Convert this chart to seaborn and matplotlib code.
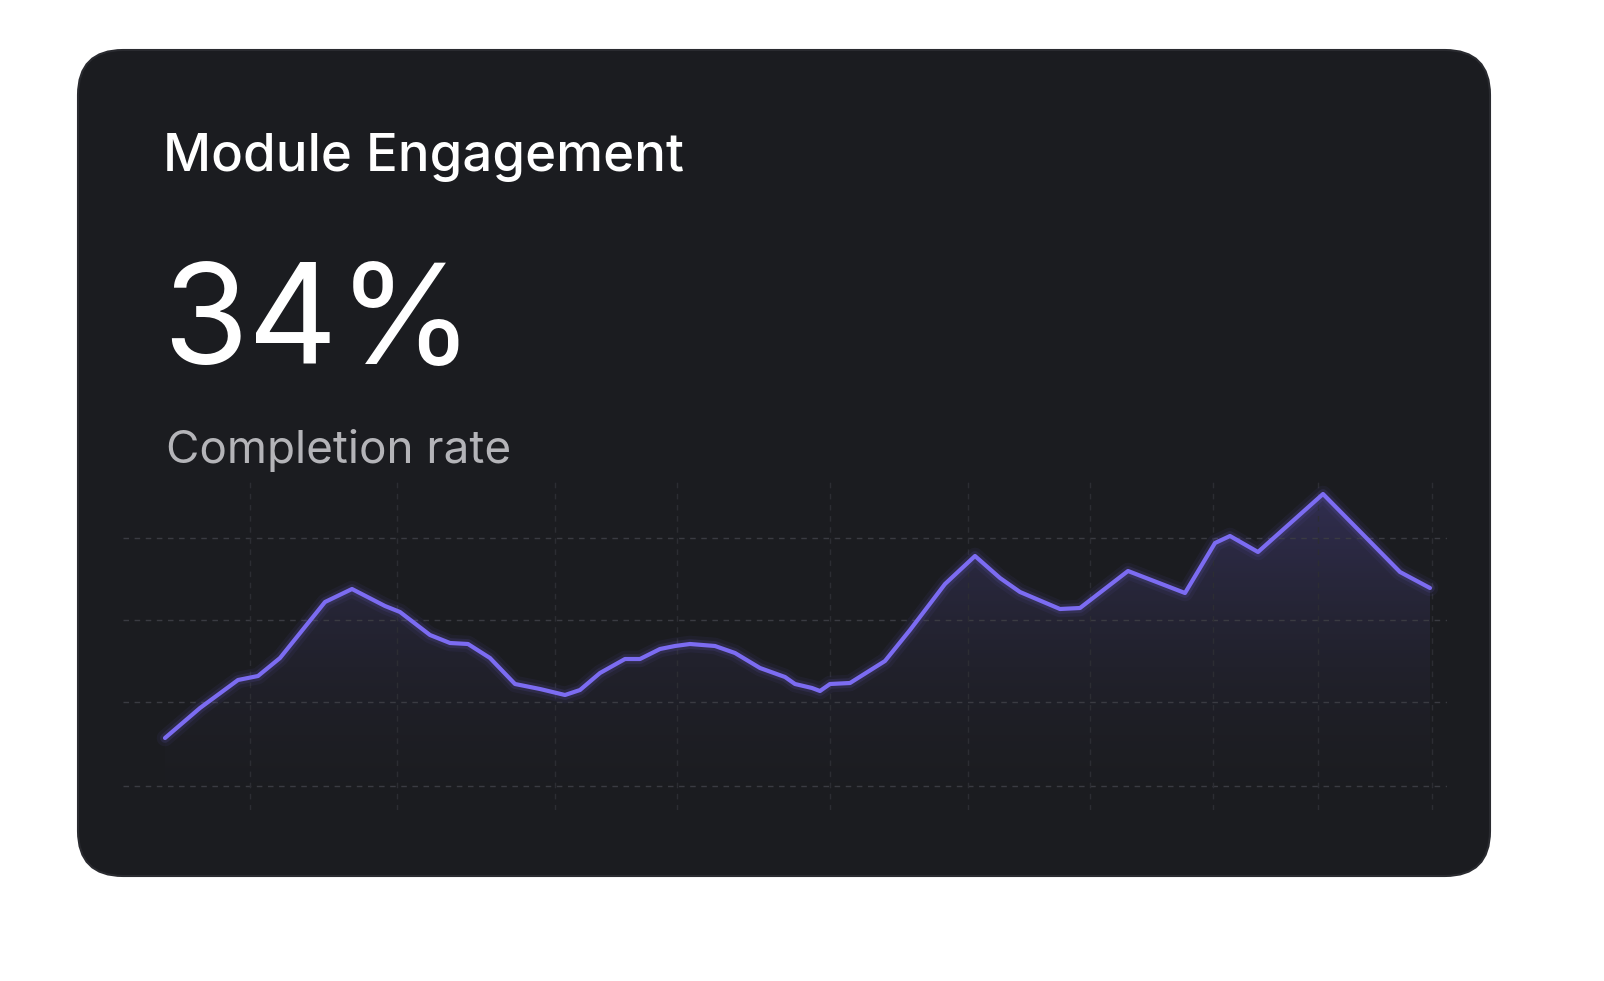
import matplotlib
matplotlib.use("Agg")
import matplotlib.pyplot as plt
import seaborn as sns
import pandas as pd
import numpy as np
from matplotlib.patches import FancyBboxPatch
from matplotlib.colors import LinearSegmentedColormap

sns.set_theme(style="dark")
plt.rcParams['font.family'] = ['Inter', 'DejaVu Sans']

title = "Module Engagement"
kpi = "34%"
kpi_label = "Completion rate"

day = [165,200,238,258,280,325,352,385,400,430,450,468,490,515,540,565,580,600,625,640,660,675,690,715,735,760,785,795,812,820,830,850,885,910,945,975,1000,1020,1060,1080,1128,1185,1215,1230,1258,1323,1400,1430]
engagement = [7.2,10.2,13.0,13.4,15.2,20.8,22.1,20.4,19.8,17.5,16.7,16.6,15.2,12.6,12.1,11.5,12.0,13.7,15.1,15.1,16.1,16.4,16.6,16.4,15.7,14.2,13.3,12.6,12.2,11.9,12.6,12.7,14.9,18.0,22.6,25.4,23.2,21.8,20.1,20.2,23.9,21.7,26.7,27.4,25.8,31.6,23.8,22.2]
h_grid = [27.2, 19.0, 10.8, 2.4]
v_grid = [250,397,555,677,830,968,1090,1213,1318,1432]

df = pd.DataFrame({"day": day, "engagement": engagement})

W, H = 1604, 981
fig = plt.figure(figsize=(W/100, H/100), dpi=100)
fig.patch.set_facecolor("white")
bg = fig.add_axes([0, 0, 1, 1])
bg.set_xlim(0, W); bg.set_ylim(H, 0); bg.axis("off")
for i, a in enumerate([0.04, 0.03, 0.02]):
    bg.add_patch(FancyBboxPatch((118 - i*2, 90 + 4 - i*2), 1332 + i*4, 746 + i*4,
                 boxstyle="round,pad=0,rounding_size=80", fc="black", ec="none", alpha=a))
bg.add_patch(FancyBboxPatch((118, 90), 1332, 746, boxstyle="round,pad=40,rounding_size=45",
             fc="#1b1c20", ec="#2a2b30", lw=1.5))
bg.text(163, 158, title, color="white", fontsize=38, fontweight="medium", va="center", ha="left")
bg.text(162, 328, kpi, color="white", fontsize=100, va="center", ha="left")
bg.text(166, 451, kpi_label, color="#b4b4b8", fontsize=33, va="center", ha="left")

ax = fig.add_axes([123/W, 1 - 810/H, (1447-123)/W, (810-480)/H])
ax.set_facecolor("none")
ax.set_xlim(123, 1447); ax.set_ylim(0, 33)
for y in h_grid:
    ax.axhline(y, color="#3a3b42", lw=1, ls=(0, (4, 4)))
for x in v_grid:
    ax.axvline(x, color="#2c2d33", lw=1, ls=(0, (4, 4)))
col = "#7c6cf2"
poly = ax.fill_between(df["day"], df["engagement"], 0, color="none", lw=0)
cmap = LinearSegmentedColormap.from_list("g", [(0.16, 0.16, 0.2, 0.0), (0.3, 0.27, 0.55, 0.45)])
grad = np.linspace(0, 1, 256).reshape(-1, 1)
im = ax.imshow(grad, cmap=cmap, aspect="auto", extent=[min(day), max(day), 0, max(engagement)],
               origin="lower", zorder=1)
im.set_clip_path(poly.get_paths()[0], transform=ax.transData)
for lw, a in [(12, 0.06), (7, 0.12)]:
    ax.plot(df["day"], df["engagement"], color=col, lw=lw, alpha=a, solid_capstyle="round", zorder=2)
sns.lineplot(data=df, x="day", y="engagement", ax=ax, color=col, lw=3, zorder=3)
ax.set_xlim(123, 1447); ax.set_ylim(0, 33)
ax.set_xlabel(""); ax.set_ylabel("")
ax.set_xticks([]); ax.set_yticks([])
for s in ax.spines.values():
    s.set_visible(False)
ax.grid(False)
fig.savefig("out.png", dpi=100, facecolor="white")
